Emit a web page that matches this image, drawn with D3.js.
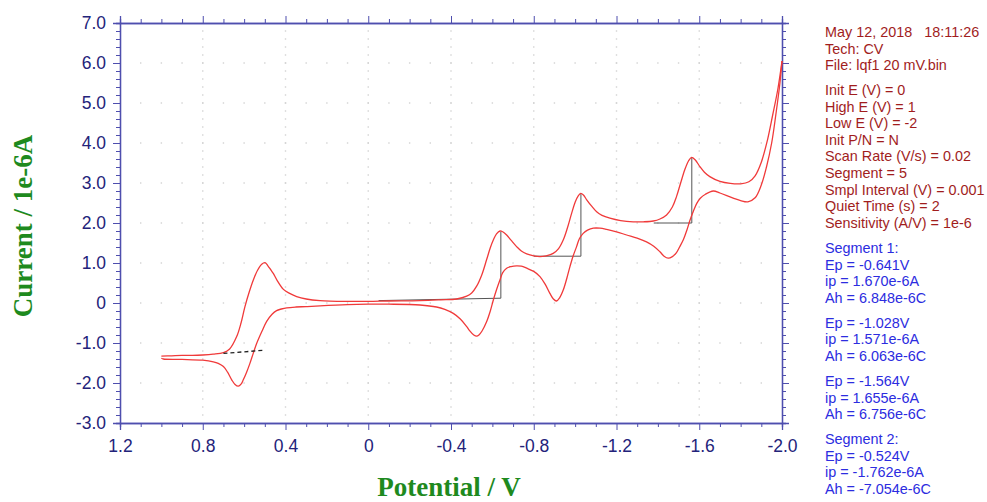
<!DOCTYPE html>
<html>
<head>
<meta charset="utf-8">
<script src="https://cdn.jsdelivr.net/npm/d3@7"></script>
<style>
  html, body { margin: 0; padding: 0; background: #fff; }
  svg { display: block; }
</style>
</head>
<body>
<svg id="chart" width="987" height="502"></svg>
<script>
// ---------- data ----------
const xTickValues = [1.2, 0.8, 0.4, 0, -0.4, -0.8, -1.2, -1.6, -2.0];
const xTickLabels = ["1.2", "0.8", "0.4", "0", "-0.4", "-0.8", "-1.2", "-1.6", "-2.0"];
const yTickValues = [7, 6, 5, 4, 3, 2, 1, 0, -1, -2, -3];
const yTickLabels = ["7.0", "6.0", "5.0", "4.0", "3.0", "2.0", "1.0", "0", "-1.0", "-2.0", "-3.0"];

// forward (cathodic) branch, potential V -> current 1e-6 A
const upperBranch = [
  [1.0,-1.33],[0.95,-1.32],[0.90,-1.31],[0.85,-1.31],[0.80,-1.30],[0.75,-1.28],[0.70,-1.24],[0.67,-1.15],
  [0.636,-0.84],[0.615,-0.50],[0.596,-0.09],[0.575,0.28],[0.556,0.57],[0.535,0.82],[0.515,0.97],[0.499,1.01],
  [0.485,0.93],[0.47,0.82],[0.459,0.74],[0.44,0.56],[0.41,0.34],[0.38,0.24],[0.346,0.16],[0.30,0.10],
  [0.233,0.06],[0.1,0.04],[0.0,0.04],[-0.1,0.05],[-0.25,0.06],[-0.35,0.08],[-0.427,0.10],[-0.476,0.17],
  [-0.50,0.25],[-0.524,0.42],[-0.55,0.72],[-0.572,1.08],[-0.59,1.38],[-0.605,1.58],[-0.62,1.73],[-0.637,1.80],
  [-0.65,1.78],[-0.669,1.70],[-0.69,1.57],[-0.717,1.41],[-0.74,1.30],[-0.766,1.23],[-0.80,1.18],[-0.83,1.16],
  [-0.86,1.18],[-0.894,1.24],[-0.92,1.36],[-0.943,1.58],[-0.963,1.88],[-0.983,2.24],[-1.0,2.52],[-1.015,2.68],
  [-1.027,2.74],[-1.04,2.70],[-1.056,2.58],[-1.08,2.42],[-1.104,2.28],[-1.13,2.19],[-1.168,2.12],[-1.22,2.06],
  [-1.281,2.03],[-1.33,2.03],[-1.378,2.05],[-1.41,2.10],[-1.442,2.20],[-1.47,2.40],[-1.49,2.66],[-1.51,3.0],
  [-1.53,3.33],[-1.548,3.55],[-1.563,3.64],[-1.58,3.58],[-1.603,3.41],[-1.625,3.27],[-1.651,3.16],[-1.70,3.04],
  [-1.75,2.99],[-1.80,2.98],[-1.84,3.03],[-1.87,3.18],[-1.90,3.52],[-1.93,4.08],[-1.955,4.7],[-1.98,5.35],[-2.0,6.05]
];
// return (anodic) branch
const lowerBranch = [
  [-2.0,6.05],[-1.99,5.5],[-1.97,4.7],[-1.95,4.0],[-1.925,3.4],[-1.90,2.95],[-1.87,2.63],[-1.835,2.53],
  [-1.80,2.56],[-1.764,2.62],[-1.70,2.75],[-1.668,2.80],[-1.63,2.72],[-1.605,2.62],[-1.588,2.49],[-1.572,2.30],
  [-1.556,2.08],[-1.54,1.82],[-1.523,1.58],[-1.505,1.40],[-1.49,1.26],[-1.47,1.16],[-1.45,1.12],[-1.43,1.17],
  [-1.41,1.28],[-1.38,1.42],[-1.345,1.53],[-1.30,1.62],[-1.249,1.70],[-1.20,1.78],[-1.152,1.84],[-1.12,1.87],
  [-1.088,1.87],[-1.06,1.82],[-1.039,1.74],[-1.02,1.60],[-1.007,1.41],[-0.99,1.17],[-0.975,0.91],[-0.96,0.62],
  [-0.943,0.33],[-0.925,0.13],[-0.91,0.05],[-0.895,0.10],[-0.878,0.24],[-0.855,0.47],[-0.83,0.66],[-0.80,0.79],
  [-0.766,0.87],[-0.74,0.92],[-0.717,0.93],[-0.69,0.91],[-0.669,0.87],[-0.65,0.76],[-0.637,0.58],[-0.62,0.33],
  [-0.605,0.08],[-0.59,-0.20],[-0.572,-0.47],[-0.55,-0.70],[-0.535,-0.80],[-0.524,-0.83],[-0.51,-0.80],[-0.49,-0.69],
  [-0.476,-0.59],[-0.445,-0.40],[-0.411,-0.26],[-0.37,-0.16],[-0.33,-0.10],[-0.25,-0.05],[-0.1,-0.03],[0.0,-0.03],
  [0.1,-0.04],[0.233,-0.07],[0.3,-0.09],[0.35,-0.10],[0.394,-0.12],[0.42,-0.15],[0.443,-0.19],[0.465,-0.28],
  [0.491,-0.46],[0.515,-0.72],[0.54,-1.02],[0.556,-1.26],[0.572,-1.51],[0.588,-1.73],[0.604,-1.92],[0.615,-2.03],
  [0.628,-2.08],[0.645,-2.03],[0.66,-1.92],[0.68,-1.73],[0.70,-1.59],[0.725,-1.51],[0.749,-1.47],[0.80,-1.43],
  [0.90,-1.41],[0.99,-1.40],[1.0,-1.38]
];

// peak baselines: [startV, startI, peakV, baseI, peakI]
const peakBaselines = [
  [-0.05, 0.06, -0.641, 0.12, 1.79],
  [-0.80, 1.17, -1.028, 1.17, 2.74],
  [-1.38, 2.00, -1.564, 2.00, 3.64]
];
// dashed baseline on the left couple: [V, I]
const dashedBaseline = [[0.70, -1.26], [0.499, -1.18]];

const infoRed = [
  ["May 12, 2018   18:11:26", "Tech: CV", "File: lqf1 20 mV.bin"],
  ["Init E (V) = 0", "High E (V) = 1", "Low E (V) = -2", "Init P/N = N", "Scan Rate (V/s) = 0.02",
   "Segment = 5", "Smpl Interval (V) = 0.001", "Quiet Time (s) = 2", "Sensitivity (A/V) = 1e-6"]
];
const infoBlue = [
  ["Segment 1:", "Ep = -0.641V", "ip = 1.670e-6A", "Ah = 6.848e-6C"],
  ["Ep = -1.028V", "ip = 1.571e-6A", "Ah = 6.063e-6C"],
  ["Ep = -1.564V", "ip = 1.655e-6A", "Ah = 6.756e-6C"],
  ["Segment 2:", "Ep = -0.524V", "ip = -1.762e-6A", "Ah = -7.054e-6C"]
];

// ---------- drawing ----------
const svg = d3.select("#chart");
const axisColor = "#4e4eae";
const labelColor = "#23237a";
const x = d3.scaleLinear().domain([1.2, -2.0]).range([120, 782]);
const y = d3.scaleLinear().domain([-3, 7]).range([423, 23]);

svg.append("rect").attr("width", 987).attr("height", 502).attr("fill", "#fff");

// grid dots
const minorX = d3.range(12, -21, -1).map(d => d / 10);
const minorY = d3.range(-15, 36, 1).map(d => d / 5);
const grid = svg.append("g").attr("fill", "#d2d2d2");
yTickValues.filter(v => v > -3 && v < 7).forEach(gy => {
  minorX.filter(v => v < 1.2 && v > -2.0).forEach(gx => {
    grid.append("rect").attr("x", x(gx) - 0.7).attr("y", y(gy) - 0.7).attr("width", 1.4).attr("height", 1.4);
  });
});
xTickValues.filter(v => v < 1.2 && v > -2.0).forEach(gx => {
  minorY.filter(v => v > -3 && v < 7).forEach(gy => {
    grid.append("rect").attr("x", x(gx) - 0.7).attr("y", y(gy) - 0.7).attr("width", 1.4).attr("height", 1.4);
  });
});

// axes
function styleAxis(g) {
  g.select(".domain").attr("stroke", axisColor).attr("stroke-width", 1.3);
  g.selectAll(".tick line").attr("stroke", axisColor).attr("stroke-width", 1);
  g.selectAll("text").attr("fill", labelColor).attr("font-family", "Liberation Sans, Arial, sans-serif").attr("font-size", 17.5);
}
const xMinor = minorX.filter(v => !xTickValues.includes(v));
const yMinor = minorY.filter(v => !yTickValues.includes(v));

svg.append("g").attr("transform", "translate(0,423)")
  .call(d3.axisBottom(x).tickValues(xTickValues).tickSize(7).tickPadding(10)
        .tickFormat((d, i) => xTickLabels[i])).call(styleAxis);
svg.append("g").attr("transform", "translate(0,423)")
  .call(d3.axisBottom(x).tickValues(xMinor).tickSize(4).tickFormat("")).call(styleAxis);
svg.append("g").attr("transform", "translate(0,23)")
  .call(d3.axisTop(x).tickValues(xTickValues).tickSize(7).tickFormat("")).call(styleAxis);
svg.append("g").attr("transform", "translate(0,23)")
  .call(d3.axisTop(x).tickValues(xMinor).tickSize(4).tickFormat("")).call(styleAxis);
svg.append("g").attr("transform", "translate(120,0)")
  .call(d3.axisLeft(y).tickValues(yTickValues).tickSize(7).tickPadding(7)
        .tickFormat((d, i) => yTickLabels[i])).call(styleAxis);
svg.append("g").attr("transform", "translate(120,0)")
  .call(d3.axisLeft(y).tickValues(yMinor).tickSize(4).tickFormat("")).call(styleAxis);
svg.append("g").attr("transform", "translate(782,0)")
  .call(d3.axisRight(y).tickValues(yTickValues).tickSize(7).tickFormat("")).call(styleAxis);
svg.append("g").attr("transform", "translate(782,0)")
  .call(d3.axisRight(y).tickValues(yMinor).tickSize(4).tickFormat("")).call(styleAxis);

// baselines
const bl = svg.append("g").attr("stroke", "#555").attr("stroke-width", 1).attr("fill", "none");
peakBaselines.forEach(([v0, i0, vp, ib, ip]) => {
  bl.append("polyline").attr("points",
    [[x(v0), y(i0)], [x(vp), y(ib)], [x(vp), y(ip)]].map(p => p.join(",")).join(" "));
});

// CV curve
const lineGen = d3.line().x(d => x(d[0])).y(d => y(d[1])).curve(d3.curveCatmullRom.alpha(0.5));
[upperBranch, lowerBranch].forEach(br => {
  svg.append("path").attr("d", lineGen(br)).attr("fill", "none")
    .attr("stroke", "#f03a3a").attr("stroke-width", 1.3);
});

svg.append("path").attr("d", d3.line().x(d => x(d[0])).y(d => y(d[1]))(dashedBaseline))
  .attr("stroke", "#222").attr("stroke-width", 1.3).attr("stroke-dasharray", "4,3").attr("fill", "none");

// axis titles
svg.append("text").attr("x", 449).attr("y", 496).attr("text-anchor", "middle")
  .attr("font-family", "Liberation Serif, Times New Roman, serif").attr("font-weight", "bold")
  .attr("font-size", 27).attr("fill", "#1e8a1e").text("Potential / V");
svg.append("text").attr("transform", "translate(32,226) rotate(-90)").attr("text-anchor", "middle")
  .attr("font-family", "Liberation Serif, Times New Roman, serif").attr("font-weight", "bold")
  .attr("font-size", 27).attr("fill", "#1e8a1e").text("Current / 1e-6A");

// info text
const info = svg.append("g").attr("font-family", "Liberation Sans, Arial, sans-serif").attr("font-size", 14.4);
let yy = 37;
infoRed.forEach(grp => {
  grp.forEach(t => {
    info.append("text").attr("x", 825).attr("y", yy).attr("fill", "#a11d1d")
      .style("white-space", "pre").text(t);
    yy += 16.6;
  });
  yy += 8.2;
});
yy = 253;
infoBlue.forEach(grp => {
  grp.forEach(t => {
    info.append("text").attr("x", 825).attr("y", yy).attr("fill", "#2c2ce0").text(t);
    yy += 16.6;
  });
  yy += 8.4;
});
</script>
</body>
</html>
